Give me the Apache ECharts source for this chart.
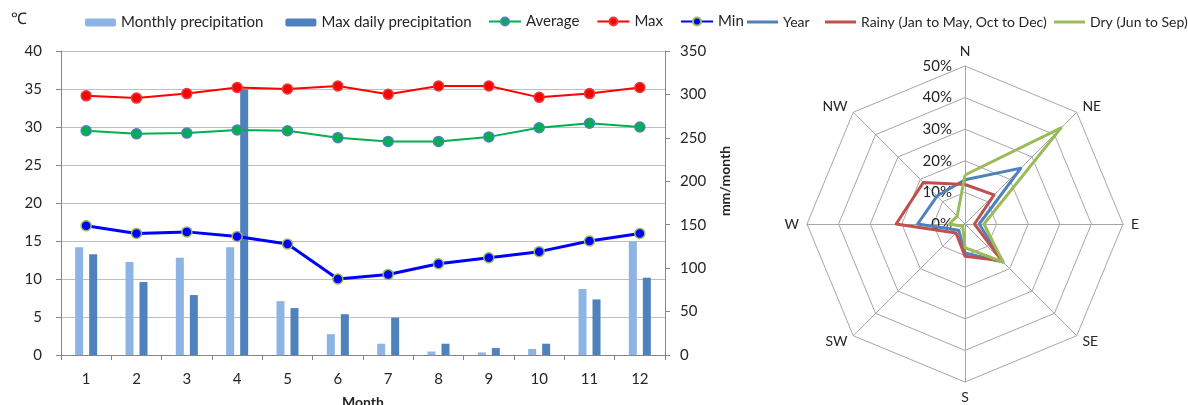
<!DOCTYPE html>
<html>
<head>
<meta charset="utf-8">
<script src="https://cdn.jsdelivr.net/npm/echarts@6/dist/echarts.min.js"></script>
<style>html,body{margin:0;padding:0;background:#fff}#c{width:1188px;height:405px}</style>
</head>
<body>
<div id="c"></div>
<script>
// ---- data ----
const months = ['1','2','3','4','5','6','7','8','9','10','11','12'];
const monthlyPrecip = [124, 107, 112, 124, 62, 24, 13, 4, 3, 7, 76, 131];
const maxDailyPrecip = [116, 84, 69, 306, 54, 47, 43, 13, 8, 13, 64, 89];
const tempAverage = [29.5, 29.1, 29.2, 29.6, 29.5, 28.6, 28.1, 28.1, 28.7, 29.9, 30.5, 30.0];
const tempMax = [34.1, 33.8, 34.4, 35.2, 35.0, 35.4, 34.3, 35.4, 35.4, 33.9, 34.4, 35.2];
const tempMin = [17.0, 16.0, 16.2, 15.6, 14.6, 10.0, 10.6, 12.0, 12.8, 13.6, 15.0, 16.0];

const directions = ['N','NE','E','SE','S','SW','W','NW'];
const windYear  = [14.0, 25.0, 4.5, 17.0, 9.2, 2.8, 15.0, 12.5];
const windRainy = [12.5, 13.0, 3.0, 16.5, 10.2, 4.0, 21.8, 18.6];
const windDry   = [15.5, 43.0, 6.0, 17.0, 7.5, 1.0, 5.0, 3.5];
const radarTicks = [0, 10, 20, 30, 40, 50];

const nameYear = 'Year';
const nameRainy = 'Rainy (Jan to May, Oct to Dec)';
const nameDry = 'Dry (Jun to Sep)';

// radar draws indicators counter-clockwise; reorder so N->NE->E runs clockwise
const order = [0, 7, 6, 5, 4, 3, 2, 1];
const reord = arr => order.map(i => arr[i]);

const FONT = 'Lato, "Liberation Sans", sans-serif';
const TXT = '#262626';
const GRID = '#BFBFBF';
const AXIS = '#868686';

const radarLegend = (name, left) => ({
  data: [name], left: left, top: 15, padding: 0, itemWidth: 31, itemHeight: 3, icon: 'rect',
  textStyle: { fontSize: 14, color: TXT, fontFamily: FONT }
});

const chart = echarts.init(document.getElementById('c'));
chart.setOption({
  animation: false,
  textStyle: { fontFamily: FONT },
  title: { text: '℃', left: 11, top: 11, padding: 0, textStyle: { fontSize: 16, fontWeight: 'normal', color: TXT, fontFamily: FONT } },
  legend: [
    { data: ['Monthly precipitation', 'Max daily precipitation'], left: 85, top: 15, padding: 0,
      itemWidth: 31, itemHeight: 8, itemGap: 22,
      textStyle: { fontSize: 15, color: TXT, fontFamily: FONT } },
    { data: ['Average', 'Max', 'Min'], left: 488, top: 14, padding: 0,
      itemWidth: 32, itemHeight: 10, itemGap: 17,
      textStyle: { fontSize: 15, color: TXT, fontFamily: FONT } },
    radarLegend(nameYear, 747),
    radarLegend(nameRainy, 825),
    radarLegend(nameDry, 1054)
  ],
  grid: { left: 61, right: 523, top: 51, bottom: 50, containLabel: false, outerBoundsMode: 'none' },
  xAxis: {
    type: 'category', data: months,
    axisLine: { lineStyle: { color: AXIS } },
    axisTick: { show: true, length: 5, lineStyle: { color: AXIS } },
    axisLabel: { fontSize: 15, color: TXT, margin: 17 },
    name: 'Month', nameLocation: 'middle', nameGap: 40,
    nameTextStyle: { fontSize: 14, fontWeight: 'bold', color: TXT }
  },
  yAxis: [
    { type: 'value', min: 0, max: 40, interval: 5,
      axisLine: { show: true, lineStyle: { color: AXIS } },
      axisTick: { show: true, length: 5, lineStyle: { color: AXIS } },
      axisLabel: { fontSize: 15, color: TXT, margin: 19 },
      splitLine: { lineStyle: { color: GRID } } },
    { type: 'value', min: 0, max: 350, interval: 50, position: 'right',
      axisLine: { show: true, lineStyle: { color: AXIS } },
      axisTick: { show: true, length: 5, lineStyle: { color: AXIS } },
      axisLabel: { fontSize: 15, color: TXT, margin: 15 },
      splitLine: { show: false },
      name: 'mm/month', nameLocation: 'middle', nameGap: 53, nameRotate: 90,
      nameTextStyle: { fontSize: 14, fontWeight: 'bold', color: TXT, padding: [0, 0, 0, 44] } }
  ],
  polar: { center: [965, 224], radius: 158 },
  angleAxis: { startAngle: 90, min: 0, max: 360, show: false },
  radiusAxis: { min: 0, max: 50, interval: 10,
    axisLine: { show: false }, axisTick: { show: false }, splitLine: { show: false },
    axisLabel: { formatter: '{value}%', fontSize: 15, color: TXT, margin: 13 } },
  radar: {
    center: [965, 224], radius: 158, shape: 'polygon', splitNumber: 5, startAngle: 90,
    indicator: reord(directions).map(d => ({ name: d, min: 0, max: radarTicks[radarTicks.length - 1] })),
    axisName: { color: TXT, fontSize: 14, fontFamily: FONT },
    nameGap: 8,
    splitLine: { lineStyle: { color: '#A6A6A6' } },
    splitArea: { show: false },
    axisLine: { lineStyle: { color: '#A6A6A6' } }
  },
  series: [
    { name: 'Monthly precipitation', type: 'bar', yAxisIndex: 1, data: monthlyPrecip, barWidth: 8, barGap: '75%',
      itemStyle: { color: '#8DB4E2' } },
    { name: 'Max daily precipitation', type: 'bar', yAxisIndex: 1, data: maxDailyPrecip, barWidth: 8,
      itemStyle: { color: '#4F81BD' } },
    { name: 'Average', type: 'line', data: tempAverage, symbol: 'circle', symbolSize: 10,
      lineStyle: { color: '#00B050', width: 2 },
      itemStyle: { color: '#00B050', borderColor: '#4F81BD', borderWidth: 1.5 } },
    { name: 'Max', type: 'line', data: tempMax, symbol: 'circle', symbolSize: 10,
      lineStyle: { color: '#FF0000', width: 2 },
      itemStyle: { color: '#FF0000', borderColor: '#E04040', borderWidth: 1.5 } },
    { name: 'Min', type: 'line', data: tempMin, symbol: 'circle', symbolSize: 10,
      lineStyle: { color: '#0000FF', width: 3 },
      itemStyle: { color: '#0000FF', borderColor: '#9BBB59', borderWidth: 1.5 } },
    { type: 'radar', symbol: 'none',
      data: [
        { name: nameYear, value: reord(windYear), lineStyle: { color: '#4F81BD', width: 3 }, itemStyle: { color: '#4F81BD' } },
        { name: nameRainy, value: reord(windRainy), lineStyle: { color: '#C0504D', width: 3 }, itemStyle: { color: '#C0504D' } },
        { name: nameDry, value: reord(windDry), lineStyle: { color: '#9BBB59', width: 3 }, itemStyle: { color: '#9BBB59' } }
      ] }
  ]
});
</script>
</body>
</html>
